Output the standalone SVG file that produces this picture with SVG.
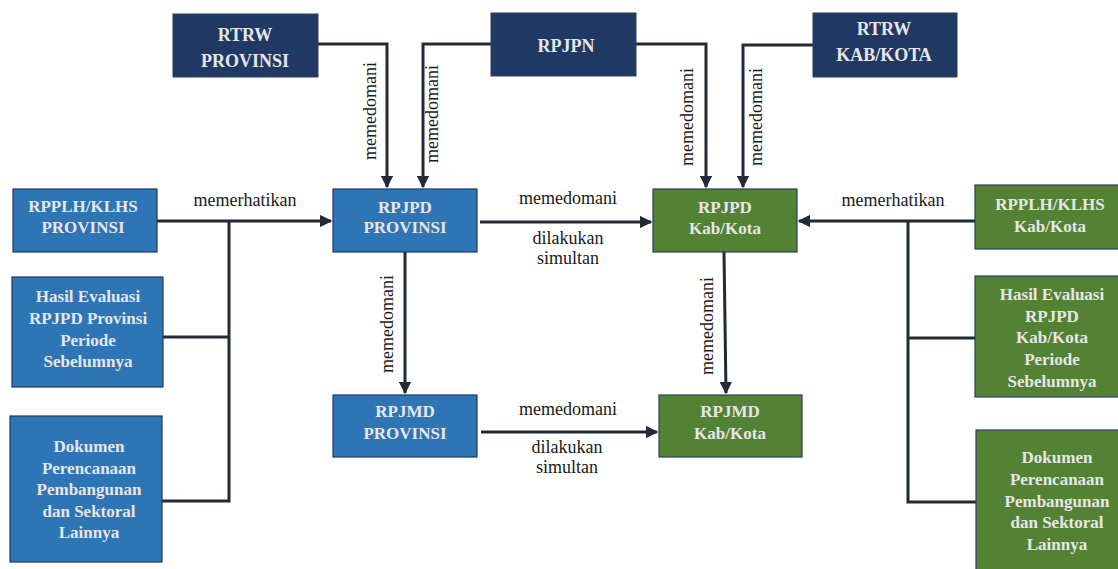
<svg xmlns="http://www.w3.org/2000/svg" width="1118" height="569" viewBox="0 0 1118 569">
<style>
.navy{fill:#203864;stroke:#2F3F5E;stroke-width:1}
.blue{fill:#2E75B6;stroke:#1F3864;stroke-width:1.2}
.green{fill:#548235;stroke:#2F3F5E;stroke-width:1.2}
.bt{font-family:"Liberation Serif",serif;font-weight:bold;fill:#E7E6E6;text-anchor:middle}
.t18{font-size:18px}
.t16{font-size:17px}
.lbl{font-family:"Liberation Serif",serif;font-size:18px;fill:#1a1a1a;text-anchor:middle}
.ln{fill:none;stroke:#222A35;stroke-width:3}
</style>
<defs>
<marker id="ah" viewBox="0 0 10 10" refX="9" refY="5" markerWidth="4.2" markerHeight="4.2" markerUnits="strokeWidth" orient="auto">
<path d="M0,0 L10,5 L0,10 z" fill="#222A35"/>
</marker>
</defs>
<g id="connectors">
<path class="ln" d="M318,44 H387 V187" marker-end="url(#ah)"/>
<path class="ln" d="M491,44 H423 V187" marker-end="url(#ah)"/>
<path class="ln" d="M636,44 H706 V187" marker-end="url(#ah)"/>
<path class="ln" d="M813,45 H743 V187" marker-end="url(#ah)"/>
<path class="ln" d="M157,221 H331" marker-end="url(#ah)"/>
<path class="ln" d="M229,221 V501 H162"/>
<path class="ln" d="M163,337 H229"/>
<path class="ln" d="M975,221 H799" marker-end="url(#ah)"/>
<path class="ln" d="M908,221 V502 H976"/>
<path class="ln" d="M975,338 H908"/>
<path class="ln" d="M480,222 H651" marker-end="url(#ah)"/>
<path class="ln" d="M405,252 V393" marker-end="url(#ah)"/>
<path class="ln" d="M724,252 L726,393" marker-end="url(#ah)"/>
<path class="ln" d="M481,432 H657" marker-end="url(#ah)"/>
<text class="lbl" transform="translate(376,111) rotate(-90)">memedomani</text>
<text class="lbl" transform="translate(438,114) rotate(-90)">memedomani</text>
<text class="lbl" transform="translate(693,117) rotate(-90)">memedomani</text>
<text class="lbl" transform="translate(762,117) rotate(-90)">memedomani</text>
<text class="lbl" transform="translate(393,324) rotate(-90)">memedomani</text>
<text class="lbl" transform="translate(713,326) rotate(-90)">memedomani</text>
<text class="lbl" x="245" y="206">memerhatikan</text>
<text class="lbl" x="893" y="206">memerhatikan</text>
<text class="lbl" x="568" y="204">memedomani</text>
<text class="lbl" x="568" y="244">dilakukan</text>
<text class="lbl" x="568" y="264">simultan</text>
<text class="lbl" x="568" y="415">memedomani</text>
<text class="lbl" x="567" y="453">dilakukan</text>
<text class="lbl" x="567" y="473">simultan</text>
</g>
<g id="rtrw-provinsi">
<rect class="navy" x="173" y="14" width="145" height="63"/>
<text class="bt t18" x="245" y="41">RTRW</text>
<text class="bt t18" x="245" y="67">PROVINSI</text>
</g>
<g id="rpjpn">
<rect class="navy" x="491" y="13" width="145" height="63"/>
<text class="bt t18" x="566" y="52">RPJPN</text>
</g>
<g id="rtrw-kabkota">
<rect class="navy" x="813" y="13" width="144" height="64"/>
<text class="bt t18" x="884" y="35">RTRW</text>
<text class="bt t18" x="884" y="61">KAB/KOTA</text>
</g>
<g id="rpplh-provinsi">
<rect class="blue" x="13" y="189" width="144" height="63"/>
<text class="bt t16" x="83" y="212">RPPLH/KLHS</text>
<text class="bt t16" x="83" y="233">PROVINSI</text>
</g>
<g id="hasil-provinsi">
<rect class="blue" x="12" y="277" width="151" height="110"/>
<text class="bt t16" x="88" y="302">Hasil Evaluasi</text>
<text class="bt t16" x="88" y="324">RPJPD Provinsi</text>
<text class="bt t16" x="88" y="346">Periode</text>
<text class="bt t16" x="88" y="367">Sebelumnya</text>
</g>
<g id="dokumen-provinsi">
<rect class="blue" x="10" y="416" width="152" height="146"/>
<text class="bt t16" x="89" y="452">Dokumen</text>
<text class="bt t16" x="89" y="474">Perencanaan</text>
<text class="bt t16" x="89" y="495">Pembangunan</text>
<text class="bt t16" x="89" y="517">dan Sektoral</text>
<text class="bt t16" x="89" y="538">Lainnya</text>
</g>
<g id="rpjpd-provinsi">
<rect class="blue" x="333" y="189" width="144" height="63"/>
<text class="bt t16" x="405" y="213">RPJPD</text>
<text class="bt t16" x="405" y="233">PROVINSI</text>
</g>
<g id="rpjmd-provinsi">
<rect class="blue" x="333" y="395" width="144" height="62"/>
<text class="bt t16" x="405" y="417">RPJMD</text>
<text class="bt t16" x="405" y="439">PROVINSI</text>
</g>
<g id="rpjpd-kabkota">
<rect class="green" x="653" y="189" width="144" height="63"/>
<text class="bt t16" x="725" y="213">RPJPD</text>
<text class="bt t16" x="725" y="234">Kab/Kota</text>
</g>
<g id="rpjmd-kabkota">
<rect class="green" x="659" y="395" width="143" height="62"/>
<text class="bt t16" x="730" y="417">RPJMD</text>
<text class="bt t16" x="730" y="439">Kab/Kota</text>
</g>
<g id="rpplh-kabkota">
<rect class="green" x="975" y="185" width="145" height="64"/>
<text class="bt t16" x="1050" y="210">RPPLH/KLHS</text>
<text class="bt t16" x="1050" y="232">Kab/Kota</text>
</g>
<g id="hasil-kabkota">
<rect class="green" x="975" y="276" width="145" height="121"/>
<text class="bt t16" x="1052" y="300">Hasil Evaluasi</text>
<text class="bt t16" x="1052" y="322">RPJPD</text>
<text class="bt t16" x="1052" y="343">Kab/Kota</text>
<text class="bt t16" x="1052" y="365">Periode</text>
<text class="bt t16" x="1052" y="387">Sebelumnya</text>
</g>
<g id="dokumen-kabkota">
<rect class="green" x="976" y="430" width="144" height="141"/>
<text class="bt t16" x="1057" y="463">Dokumen</text>
<text class="bt t16" x="1057" y="485">Perencanaan</text>
<text class="bt t16" x="1057" y="507">Pembangunan</text>
<text class="bt t16" x="1057" y="528">dan Sektoral</text>
<text class="bt t16" x="1057" y="550">Lainnya</text>
</g>
</svg>
